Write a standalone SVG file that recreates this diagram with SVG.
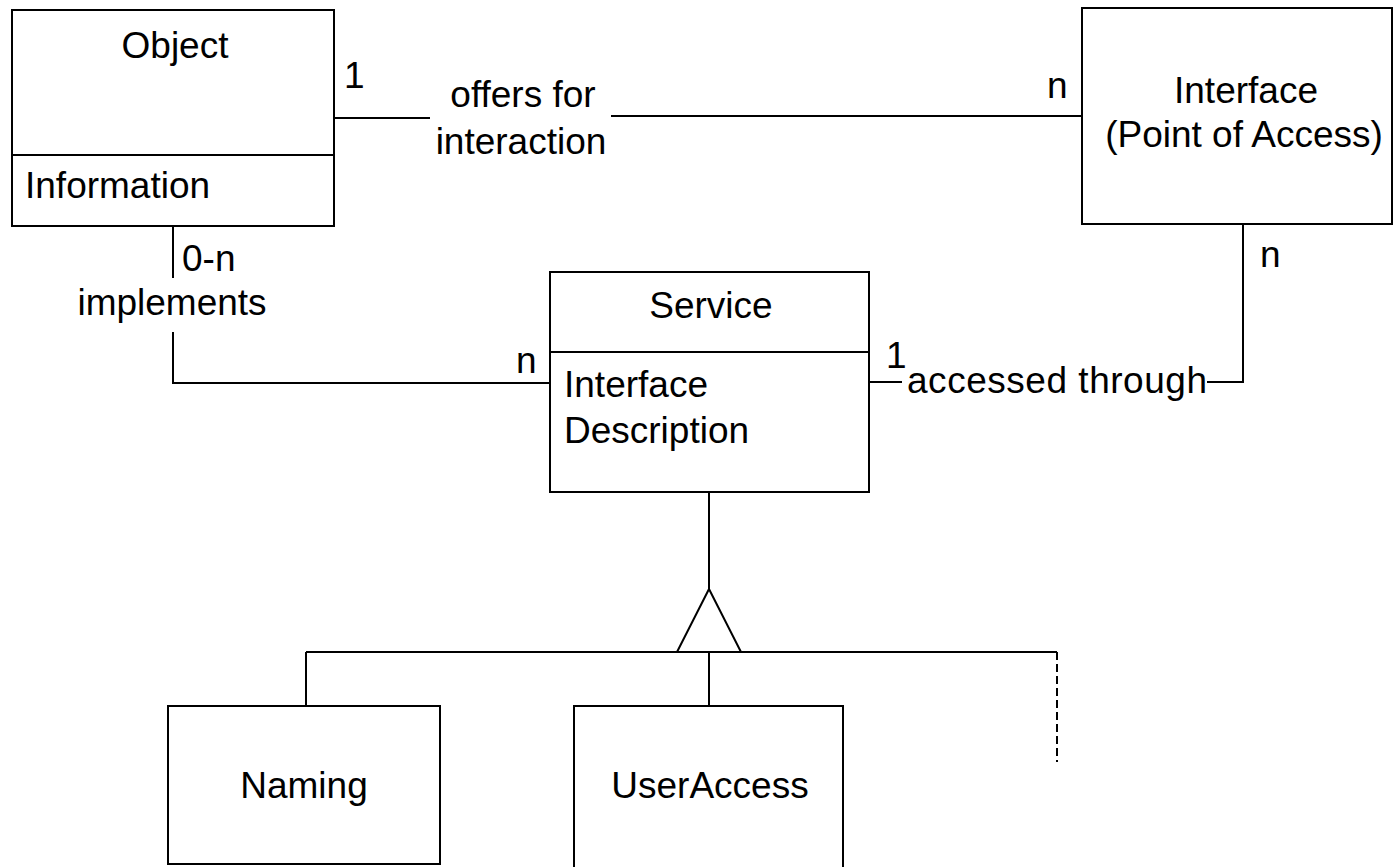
<svg xmlns="http://www.w3.org/2000/svg" width="1393" height="867" viewBox="0 0 1393 867">
<style>
.box{fill:#fff;stroke:#000;stroke-width:2}
.ln{fill:none;stroke:#000;stroke-width:2}
.dash{fill:none;stroke:#000;stroke-width:2;stroke-dasharray:8 4}
text{font-family:"Liberation Sans",Arial,sans-serif;font-size:37px;fill:#000}
.c{text-anchor:middle}
</style>
<rect width="1393" height="867" fill="#fff"/>
<g id="connectors">
<path class="ln" d="M334 118H430"/>
<path class="ln" d="M611 116H1082"/>
<path class="ln" d="M173 226V278"/>
<path class="ln" d="M173 332V383H550"/>
<path class="ln" d="M869 382H902"/>
<path class="ln" d="M1207 382H1243V224"/>
<path class="ln" d="M709 492V589"/>
<polygon class="ln" points="709,589 677,652 741,652"/>
<path class="ln" d="M306 652H1057"/>
<path class="ln" d="M306 652V706"/>
<path class="ln" d="M709 652V706"/>
<path class="dash" d="M1057 652V762"/>
<text x="344" y="88">1</text>
<text class="c" x="523" y="107">offers for</text>
<text class="c" x="521" y="154">interaction</text>
<text x="1047" y="98">n</text>
<text x="1260" y="267">n</text>
<text x="886" y="368">1</text>
<text x="907" y="393" textLength="300" lengthAdjust="spacing">accessed through</text>
<text x="182" y="271">0-n</text>
<text class="c" x="172" y="315">implements</text>
<text x="516" y="373">n</text>
</g>
<g id="object">
<rect class="box" x="12" y="10" width="322" height="216"/>
<path class="ln" d="M12 155H334"/>
<text class="c" x="175" y="58">Object</text>
<text x="25" y="198">Information</text>
</g>
<g id="interface">
<rect class="box" x="1082" y="8" width="310" height="216"/>
<text class="c" x="1246" y="103">Interface</text>
<text class="c" x="1244" y="147">(Point of Access)</text>
</g>
<g id="service">
<rect class="box" x="550" y="272" width="319" height="220"/>
<path class="ln" d="M550 352H869"/>
<text class="c" x="711" y="318">Service</text>
<text x="564" y="397">Interface</text>
<text x="564" y="443">Description</text>
</g>
<g id="naming">
<rect class="box" x="168" y="706" width="272" height="158"/>
<text class="c" x="304" y="798">Naming</text>
</g>
<g id="useraccess">
<rect class="box" x="574" y="706" width="269" height="170"/>
<text class="c" x="710" y="798">UserAccess</text>
</g>
</svg>
